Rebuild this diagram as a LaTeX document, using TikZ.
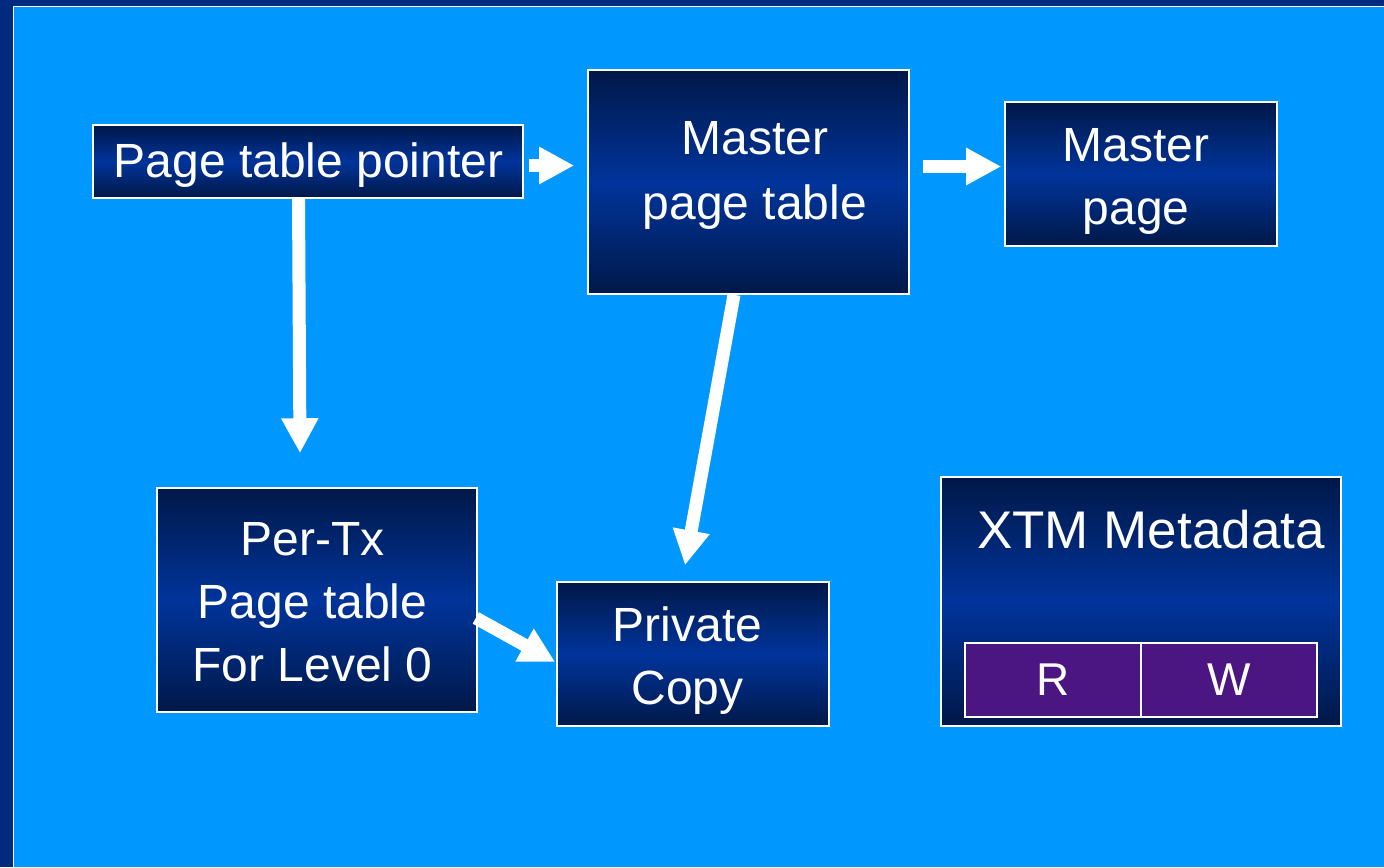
\documentclass[tikz,border=0pt]{standalone}
\usepackage{fontspec}
\setmainfont{Liberation Sans}
\usetikzlibrary{arrows.meta,calc}

\definecolor{frameblue}{RGB}{0,42,128}
\definecolor{slideblue}{RGB}{0,152,255}
\definecolor{boxdark}{RGB}{0,24,72}
\definecolor{boxmid}{RGB}{0,52,155}
\definecolor{bitpurple}{RGB}{76,22,130}

\tikzset{
  box/.style={draw=white, line width=0.8pt, inner sep=0pt,
    top color=boxdark, bottom color=boxdark, middle color=boxmid},
  label text/.style={text=white, align=center, inner sep=0pt,
    font=\fontsize{24}{31.5}\selectfont},
  bitbox/.style={draw=white, line width=0.7pt, fill=bitpurple, inner sep=0pt,
    minimum width=88pt, minimum height=37pt, text=white,
    font=\fontsize{23}{28}\selectfont},
  blockarrow/.style={draw=white, line width=6.5pt,
    -{Triangle[length=17.5pt,width=17.5pt]}}
}

\begin{document}
\begin{tikzpicture}[x=0.5pt,y=-0.5pt]
  \useasboundingbox (0,0) rectangle (1384,867);
  % slide frame and background
  \fill[frameblue] (0,0) rectangle (1384,867);
  \fill[slideblue] (13.5,6.5) rectangle (1384,867);
  \draw[white, line width=0.75pt] (13.5,867) -- (13.5,6.5) -- (1384,6.5);

  % boxes
  \node[box, minimum width=215pt, minimum height=36.5pt] (ptp) at (308,161.5) {};
  \node[label text] (ptptext) at (308.5,165.5) {Page table pointer};

  \node[box, minimum width=160.5pt, minimum height=112pt] (mpt) at (748.5,182) {};
  \node[label text, font=\fontsize{24}{32.5}\selectfont] (mpttext) at (755,175.5)
    {Master\\page table};

  \node[box, minimum width=136pt, minimum height=72pt] (mp) at (1141,174) {};
  \node[label text] (mptext) at (1136,181) {Master\\page};

  \node[box, minimum width=160pt, minimum height=112pt] (pertx) at (317,600) {};
  \node[label text] (pertxtext) at (312.5,602.5) {Per-Tx\\Page table\\For Level 0};

  \node[box, minimum width=136pt, minimum height=72pt] (pc) at (693,654) {};
  \node[label text] (pctext) at (687.5,660.5) {Private\\Copy};

  % metadata box with read/write bits
  \node[box, minimum width=200pt, minimum height=124.5pt] (xtm) at (1141,601.5) {};
  \node[label text, font=\fontsize{26.5}{32}\selectfont] (xtmtitle) at (1151,530)
    {XTM Metadata};
  \node[bitbox] (rbit) at (1053,680) {R};
  \node[bitbox] (wbit) at (1229,680) {W};

  % connectors
  \draw[blockarrow] ($(ptp.east)+(5,4)$) -- ($(mpt.west)+(-13,-16.5)$);
  \draw[blockarrow] ($(mpt.east)+(13,-15.5)$) -- ($(mp.west)+(-3,-7.5)$);
  \draw[blockarrow] ($(ptp.south)+(-9.5,0)$) -- ($(pertx.north)+(-17,-34)$);
  \draw[blockarrow] ($(mpt.south)+(-14.5,0)$) -- ($(pc.north)+(-8,-16)$);
  \draw[blockarrow] ($(pertx.east)+(-2,18)$) -- ($(pc.west)+(-1,8)$);
\end{tikzpicture}
\end{document}
